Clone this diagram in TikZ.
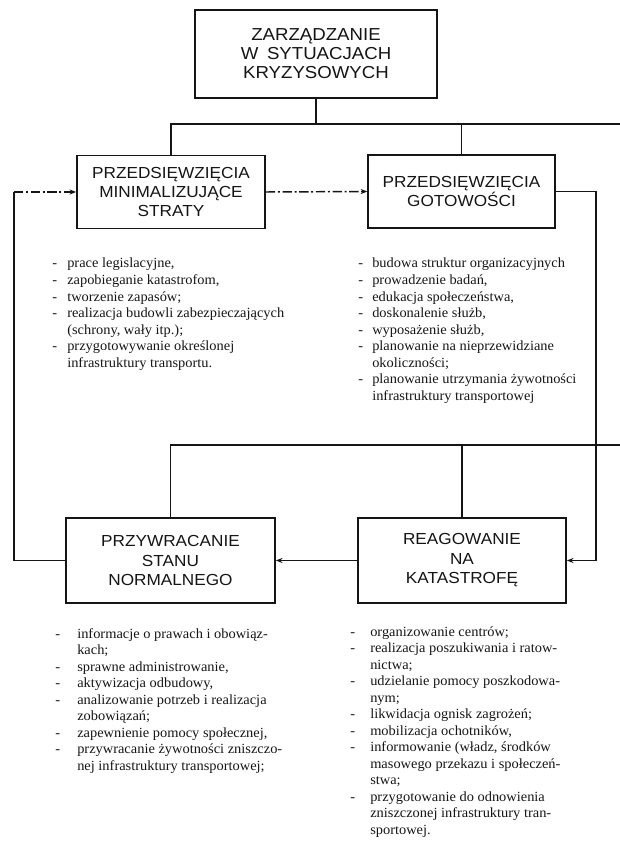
\documentclass[tikz,border=0pt]{standalone}
\usepackage{fontspec}
\setmainfont{Liberation Serif}
\newfontfamily\naglowek[FakeStretch=1.075]{Liberation Sans}
\newfontfamily\punktfont[FakeStretch=1.03]{Liberation Serif}
\usetikzlibrary{arrows.meta}
\definecolor{ScanInk}{HTML}{151515}
\newlength{\wciecie}
\newcommand{\mysl}{\makebox[\wciecie][l]{-}}
\newcommand{\dalej}{\hspace*{\wciecie}}
\tikzset{
  kz/box/.style={
    draw=ScanInk, line width=1.25pt, fill=white, inner sep=3pt,
    font=\naglowek\fontsize{12}{14.6}\selectfont, align=center, text=ScanInk
  },
  kz/top/.style={kz/box, font=\naglowek\fontsize{13}{14.2}\selectfont},
  kz/line/.style={draw=ScanInk, line width=1.1pt},
  kz/arrow/.style={kz/line, -{Stealth[length=5pt,width=3.8pt]}},
  kz/feedback/.style={kz/arrow, dash pattern=on 7pt off 2pt on 1.5pt off 2pt},
  kz/list/.style={
    font=\punktfont\fontsize{10.5}{12.4}\selectfont, text=ScanInk,
    align=left, inner sep=0pt, anchor=north west,
    execute at begin node={\global\wciecie=#1\relax}
  }
}

\begin{document}
\begin{tikzpicture}[x=0.75pt,y=-0.75pt]
  \useasboundingbox (0,0) rectangle (620,841);
  % boxes
  \node[kz/top,minimum width=181.5pt,minimum height=66pt] (zarzadzanie) at (316,54)
    {ZARZĄDZANIE\\W\enspace SYTUACJACH\\KRYZYSOWYCH};
  \node[kz/box,minimum width=141pt,minimum height=54.75pt] (minimalizujace) at (171,192)
    {PRZEDSIĘWZIĘCIA\\MINIMALIZUJĄCE\\STRATY};
  \node[kz/box,minimum width=140pt,minimum height=54.75pt] (gotowosc) at (461.5,191.5)
    {PRZEDSIĘWZIĘCIA\\GOTOWOŚCI};
  \node[kz/box,minimum width=156.75pt,minimum height=63.75pt] (przywracanie) at (170.5,560.5)
    {PRZYWRACANIE\\STANU\\NORMALNEGO};
  \node[kz/box,minimum width=156pt,minimum height=63.75pt] (reagowanie) at (462,560.5)
    {REAGOWANIE\\NA\\KATASTROFĘ};
  % bus lines
  \coordinate (szynaG) at (620,124);
  \coordinate (szynaD) at (620,445);
  \coordinate (obwodP) at (596,560.5);
  \coordinate (obwodL) at (14,560.5);
  \coordinate (obwodLG) at (14,192);
  \draw[kz/line] (zarzadzanie.south) -- (zarzadzanie.south |- szynaG);
  \draw[kz/line] (minimalizujace.north) |- (szynaG);
  \draw[kz/line] (gotowosc.north) -- (gotowosc.north |- szynaG);
  \draw[kz/line] (przywracanie.north) |- (szynaD);
  \draw[kz/line] (reagowanie.north) -- (reagowanie.north |- szynaD);
  % cycle
  \draw[kz/feedback] (minimalizujace.east) -- (gotowosc.west);
  \draw[kz/arrow] (gotowosc.east) -| (obwodP) -- (reagowanie.east);
  \draw[kz/arrow] (reagowanie.west) -- (przywracanie.east);
  \draw[kz/line] (przywracanie.west) -- (obwodL) -- (obwodLG);
  \draw[kz/feedback] (obwodLG) -- (minimalizujace.west);
  % lists
  \node[kz/list=11.25pt] (listaMin) at (52,258) {%
    \mysl prace legislacyjne,\\
    \mysl zapobieganie katastrofom,\\
    \mysl tworzenie zapasów;\\
    \mysl realizacja budowli zabezpieczających\\
    \dalej (schrony, wały itp.);\\
    \mysl przygotowywanie określonej\\
    \dalej infrastruktury transportu.};
  \node[kz/list=10.5pt] (listaGot) at (358,258) {%
    \mysl budowa struktur organizacyjnych\\
    \mysl prowadzenie badań,\\
    \mysl edukacja społeczeństwa,\\
    \mysl doskonalenie służb,\\
    \mysl wyposażenie służb,\\
    \mysl planowanie na nieprzewidziane\\
    \dalej okoliczności;\\
    \mysl planowanie utrzymania żywotności\\
    \dalej infrastruktury transportowej};
  \node[kz/list=16.5pt] (listaPrz) at (55,628) {%
    \mysl informacje o prawach i obowiąz-\\
    \dalej kach;\\
    \mysl sprawne administrowanie,\\
    \mysl aktywizacja odbudowy,\\
    \mysl analizowanie potrzeb i realizacja\\
    \dalej zobowiązań;\\
    \mysl zapewnienie pomocy społecznej,\\
    \mysl przywracanie żywotności zniszczo-\\
    \dalej nej infrastruktury transportowej;};
  \node[kz/list=15pt] (listaReag) at (350,626) {%
    \mysl organizowanie centrów;\\
    \mysl realizacja poszukiwania i ratow-\\
    \dalej nictwa;\\
    \mysl udzielanie pomocy poszkodowa-\\
    \dalej nym;\\
    \mysl likwidacja ognisk zagrożeń;\\
    \mysl mobilizacja ochotników,\\
    \mysl informowanie (władz, środków\\
    \dalej masowego przekazu i społeczeń-\\
    \dalej stwa;\\
    \mysl przygotowanie do odnowienia\\
    \dalej zniszczonej infrastruktury tran-\\
    \dalej sportowej.};
\end{tikzpicture}
\end{document}
